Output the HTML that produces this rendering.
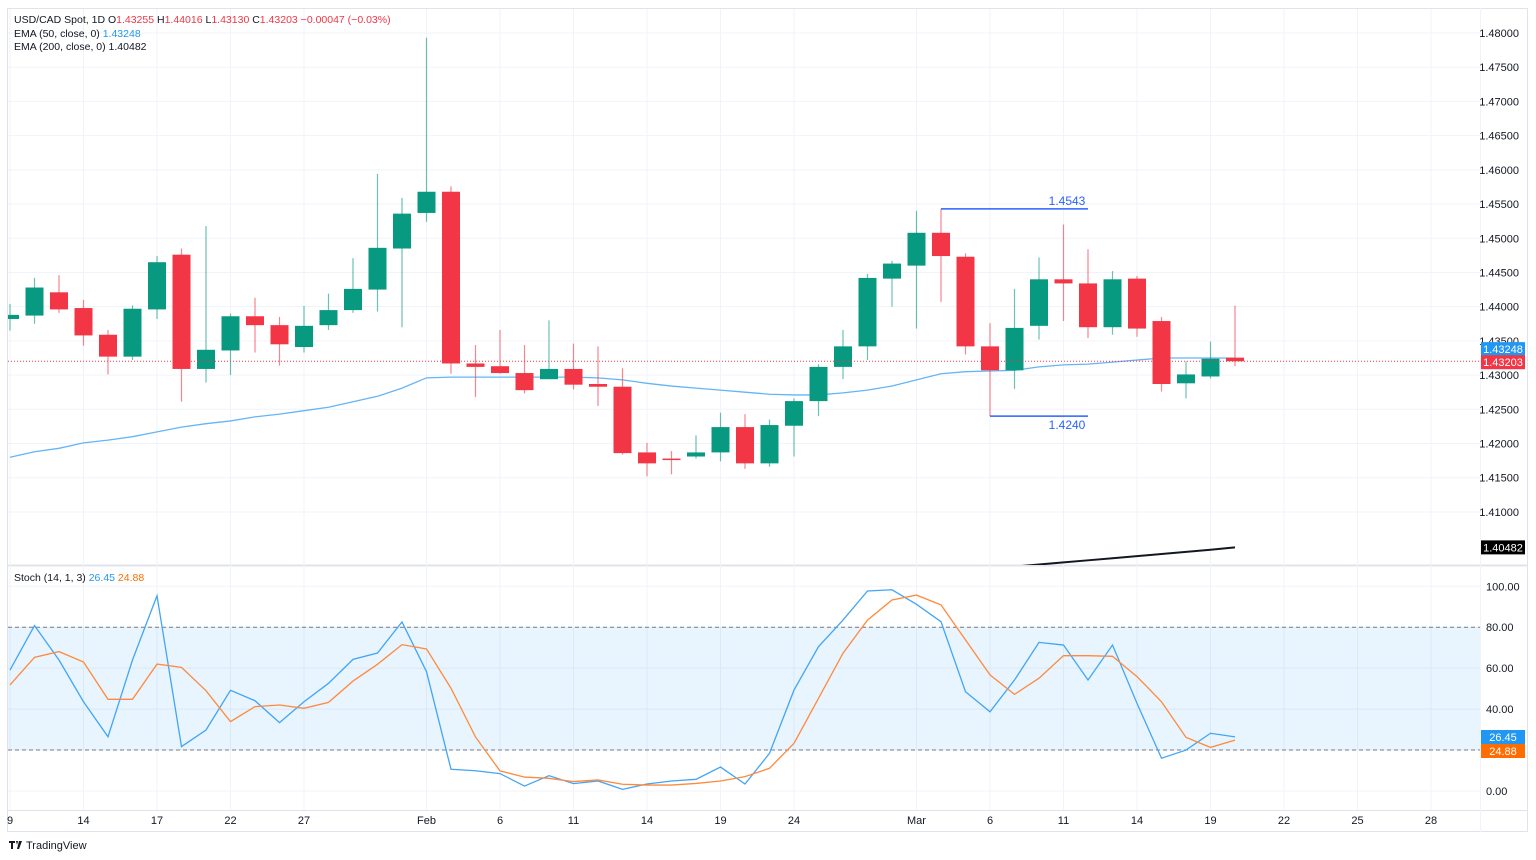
<!DOCTYPE html>
<html><head><meta charset="utf-8"><style>
html,body{margin:0;padding:0;background:#fff;width:1536px;height:860px;overflow:hidden;font-family:"Liberation Sans",sans-serif}
svg text{font-family:"Liberation Sans",sans-serif}
</style></head><body>
<svg id="chart" width="1536" height="860" xmlns="http://www.w3.org/2000/svg"></svg>
<script>
const opens  =[1.4382,1.4387,1.4421,1.4398,1.4359,1.4327,1.4396,1.4476,1.4309,1.4336,1.4386,1.4373,1.4341,1.4373,1.4395,1.4425,1.4485,1.4537,1.4568,1.4317,1.4313,1.4303,1.4294,1.4309,1.4287,1.4283,1.4187,1.4178,1.4181,1.4187,1.4224,1.4171,1.4226,1.4262,1.4312,1.4342,1.4441,1.4460,1.4508,1.4473,1.4342,1.4307,1.4372,1.4440,1.4434,1.4370,1.4441,1.4379,1.4288,1.4298,1.43255];
const highs  =[1.4404,1.4442,1.4446,1.4410,1.4366,1.4402,1.4474,1.4485,1.4518,1.4390,1.4413,1.4385,1.4401,1.4419,1.4471,1.4594,1.4559,1.4793,1.4576,1.4344,1.4366,1.4344,1.4380,1.4346,1.4342,1.4310,1.4201,1.4189,1.4212,1.4245,1.4243,1.4235,1.4266,1.4316,1.4366,1.4448,1.4467,1.4540,1.4543,1.4478,1.4376,1.4426,1.4472,1.4520,1.4484,1.4452,1.4445,1.4385,1.4320,1.4349,1.44016];
const lows   =[1.4365,1.4375,1.4391,1.4343,1.4301,1.4322,1.4382,1.4261,1.4289,1.4300,1.4333,1.4314,1.4333,1.4366,1.4391,1.4393,1.4370,1.4524,1.4302,1.4268,1.4302,1.4273,1.4294,1.4279,1.4255,1.4184,1.4152,1.4155,1.4178,1.4174,1.4163,1.4166,1.4181,1.4240,1.4294,1.4322,1.4400,1.4368,1.4407,1.4330,1.4240,1.4280,1.4352,1.4379,1.4354,1.4359,1.4356,1.4276,1.4266,1.4295,1.43130];
const closes =[1.4388,1.4428,1.4396,1.4358,1.4327,1.4397,1.4465,1.4309,1.4337,1.4386,1.4373,1.4345,1.4372,1.4395,1.4426,1.4486,1.4536,1.4568,1.4317,1.4312,1.4303,1.4278,1.4309,1.4286,1.4283,1.4186,1.4171,1.4177,1.4187,1.4224,1.4171,1.4227,1.4262,1.4312,1.4342,1.4442,1.4463,1.4508,1.4474,1.4342,1.4307,1.4369,1.4440,1.4434,1.4370,1.4440,1.4368,1.4287,1.4301,1.4324,1.43203];
const ema50  =[1.4180,1.4188,1.4193,1.4201,1.4205,1.4210,1.4217,1.4224,1.4229,1.4233,1.4239,1.4243,1.4248,1.4253,1.4261,1.4269,1.4281,1.4296,1.4297,1.4297,1.4297,1.4297,1.4297,1.4297,1.4296,1.4293,1.4288,1.4284,1.4281,1.4278,1.4275,1.4272,1.4271,1.4271,1.4274,1.4278,1.4284,1.4293,1.4302,1.4305,1.4306,1.4307,1.4312,1.4315,1.4316,1.4319,1.4322,1.4325,1.4325,1.4325,1.43248];
const ema200 =[1.40170,1.40201,1.40232,1.40262,1.40293,1.40324,1.40354,1.40385,1.40416,1.40447,1.40482];
const stochK =[59.1,80.8,64.0,43.6,26.5,64.0,95.4,21.7,29.8,49.2,44.1,33.4,43.6,52.6,64.3,67.4,82.6,58.3,10.6,9.9,8.5,2.4,7.5,3.6,4.9,0.8,3.4,4.9,5.7,11.7,3.4,18.4,49.3,70.5,83.5,97.7,98.3,91.2,82.7,48.5,38.7,54.2,72.6,71.3,54.2,71.3,42.8,16.0,20.0,28.2,26.45];
const stochD =[51.8,65.3,68.1,63.0,44.8,44.8,62.0,60.4,49.0,33.9,41.2,42.0,40.4,43.3,53.7,61.9,71.5,69.4,50.2,26.4,9.8,6.8,6.2,4.6,5.4,3.3,2.9,2.9,3.7,4.9,7.0,11.1,23.3,45.3,67.3,83.5,93.3,95.7,90.9,73.8,56.7,47.2,55.1,66.1,66.1,65.8,55.9,43.6,26.2,21.3,24.88];
const dateLabels=["9","14","17","22","27","Feb","6","11","14","19","24","Mar","6","11","14","19","22","25","28"];
const dateIdx=[0,3,6,9,12,17,20,23,26,29,32,37,40,43,46,49,52,55,58];
const priceTicks=[1.48,1.475,1.47,1.465,1.46,1.455,1.45,1.445,1.44,1.435,1.43,1.425,1.42,1.415,1.41];
const stochTicks=[100,80,60,40,20,0];

const NS="http://www.w3.org/2000/svg";
const svg=document.getElementById('chart');
const L=8,R=1480,T=9,MB=565,ST=566,SB=810;
const xS=i=>10+24.5*i;
const yP=p=>33+(1.48-p)*6842;
const yS=v=>791-v*2.047;
function el(tag,attrs,parent){const e=document.createElementNS(NS,tag);for(const k in attrs)e.setAttribute(k,attrs[k]);(parent||svg).appendChild(e);return e;}
function txt(s,attrs,parent){const e=el('text',attrs,parent);e.textContent=s;return e;}

const frame=el('rect',{x:7.5,y:8.5,width:1520,height:823,fill:'#fff',stroke:'#e0e3eb'});

const sep=el('line',{x1:8,x2:1528,y1:565.5,y2:565.5,stroke:'#e0e3eb','stroke-width':2});

el('line',{x1:8,x2:1528,y1:810.5,y2:810.5,stroke:'#e0e3eb'});
el('line',{x1:R+0.5,x2:R+0.5,y1:8,y2:832,stroke:'#f0f3fa'});

const grid=el('g',{});
dateIdx.forEach(i=>{el('line',{x1:xS(i),x2:xS(i),y1:T,y2:SB,stroke:'#f0f3fa'},grid);});
priceTicks.forEach(p=>{el('line',{x1:L,x2:R,y1:yP(p),y2:yP(p),stroke:'#f0f3fa'},grid);});
stochTicks.forEach(v=>{el('line',{x1:L,x2:R,y1:yS(v),y2:yS(v),stroke:'#f0f3fa'},grid);});

const pax=el('g',{});
priceTicks.forEach(p=>{const t=txt(p.toFixed(5),{x:1519,y:yP(p)+4,'font-size':11,fill:'#131722','text-anchor':'end'},pax);});
const sax=el('g',{});
stochTicks.forEach(v=>{if(v===20)return;const t=txt(v.toFixed(2),{x:1486,y:yS(v)+4,'font-size':11,fill:'#131722'},sax);});
const tax=el('g',{});
dateLabels.forEach((s,k)=>{const t=txt(s,{x:xS(dateIdx[k]),y:824,'font-size':11,fill:'#131722','text-anchor':'middle'},tax);});

const defs=el('defs',{});
const cp=el('clipPath',{id:'mainClip'},defs);el('rect',{x:L,y:T,width:R-L,height:MB-T},cp);
const cp2=el('clipPath',{id:'stClip'},defs);el('rect',{x:L,y:ST,width:R-L,height:SB-ST},cp2);
const main=el('g',{'clip-path':'url(#mainClip)'});

const e50=el('polyline',{points:ema50.map((v,i)=>xS(i)+','+yP(v)).join(' '),fill:'none',stroke:'#64b5f6','stroke-width':1.3},main);

const off=closes.length-ema200.length;
const e200=el('polyline',{points:ema200.map((v,i)=>xS(i+off)+','+yP(v)).join(' '),fill:'none',stroke:'#131722','stroke-width':2},main);


closes.forEach((c,i)=>{
  const o=opens[i],up=c>=o,col=up?'#089981':'#f23645';
  const g=el('g',{},main);
  
  
  el('line',{x1:xS(i),x2:xS(i),y1:yP(highs[i]),y2:yP(lows[i]),stroke:col,'stroke-width':1.2,'stroke-opacity':0.6},g);
  const top=yP(Math.max(o,c)),h=Math.max(1.5,Math.abs(yP(o)-yP(c)));
  el('rect',{x:xS(i)-9,y:top,width:18,height:h,fill:col},g);
});

const lp=el('line',{x1:L,x2:R,y1:yP(closes[closes.length-1]),y2:yP(closes[closes.length-1]),stroke:'#f23645','stroke-width':1,'stroke-dasharray':'1 2'},main);


const hiI=38,loI=40;
const a1=el('g',{},main);
el('line',{x1:xS(hiI),x2:xS(44),y1:yP(highs[hiI]),y2:yP(highs[hiI]),stroke:'#2962ff','stroke-width':1.5},a1);
txt(highs[hiI].toFixed(4),{x:1067,y:yP(highs[hiI])-4,'font-size':12,fill:'#2962ff','text-anchor':'middle'},a1);
const a2=el('g',{},main);
el('line',{x1:xS(loI),x2:xS(44),y1:yP(lows[loI]),y2:yP(lows[loI]),stroke:'#2962ff','stroke-width':1.5},a2);
txt(lows[loI].toFixed(4),{x:1067,y:yP(lows[loI])+13,'font-size':12,fill:'#2962ff','text-anchor':'middle'},a2);

function badge(v,y,bg,name){const g=el('g',{});
 el('rect',{x:1481,y:y-7,width:44,height:14,fill:bg},g);txt(v,{x:1503,y:y+4,'font-size':11,fill:'#fff','text-anchor':'middle'},g);}
badge(ema50[ema50.length-1].toFixed(5),yP(ema50[ema50.length-1])-9,'#2196f3','ema50-badge');
badge(closes[closes.length-1].toFixed(5),yP(closes[closes.length-1])+1,'#f23645','last-price-badge');
badge(ema200[ema200.length-1].toFixed(5),yP(ema200[ema200.length-1]),'#000','ema200-badge');

const sp=el('g',{'clip-path':'url(#stClip)'});
const band=el('rect',{x:L,y:yS(80),width:R-L,height:yS(20)-yS(80),fill:'#2196f3','fill-opacity':0.1},sp);

[80,20].forEach(v=>{el('line',{x1:L,x2:R,y1:yS(v),y2:yS(v),stroke:'#787b86','stroke-dasharray':'4 3'},sp);});
const kl=el('polyline',{points:stochK.map((v,i)=>xS(i)+','+yS(v)).join(' '),fill:'none',stroke:'#42a5f5','stroke-width':1.3},sp);

const dl=el('polyline',{points:stochD.map((v,i)=>xS(i)+','+yS(v)).join(' '),fill:'none',stroke:'#ff8a3d','stroke-width':1.3},sp);

badge(stochK[stochK.length-1].toFixed(2),737,'#2196f3','stoch-k-badge');
badge(stochD[stochD.length-1].toFixed(2),751,'#ff6d00','stoch-d-badge');

const lg=el('g',{});
const t1=txt('',{x:14,y:23,'font-size':10.5,fill:'#131722'},lg);
function span(parent,s,fill){const e=document.createElementNS(NS,'tspan');if(fill)e.setAttribute('fill',fill);e.textContent=s;parent.appendChild(e);}
const red='#f23645';
span(t1,'USD/CAD Spot, 1D  O');span(t1,'1.43255',red);span(t1,'  H');span(t1,'1.44016',red);span(t1,'  L');span(t1,'1.43130',red);span(t1,'  C');span(t1,'1.43203',red);span(t1,'  \u22120.00047 (\u22120.03%)',red);
const t2=txt('',{x:14,y:37,'font-size':10.5,fill:'#131722'},lg);span(t2,'EMA (50, close, 0)  ');span(t2,'1.43248','#2196f3');
const t3=txt('',{x:14,y:50,'font-size':10.5,fill:'#131722'},lg);span(t3,'EMA (200, close, 0)  ');span(t3,'1.40482','#131722');
const t4=txt('',{x:14,y:581,'font-size':10.5,fill:'#131722'},lg);span(t4,'Stoch (14, 1, 3)  ');span(t4,'26.45','#2196f3');span(t4,'  ');span(t4,'24.88','#ff6d00');

const lo=el('g',{});
el('path',{d:'M9 841h6v2h-2v6h-2v-6h-2z M16 841h2l-1 4z M19 841h3l-3 8h-2z',fill:'#131722'},lo);
txt('TradingView',{x:26,y:849,'font-size':11,fill:'#131722'},lo);
</script>
</body></html>
